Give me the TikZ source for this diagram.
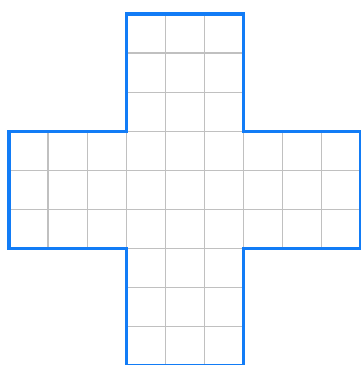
\documentclass[tikz,border=0pt]{standalone}
\definecolor{crossblue}{RGB}{18,124,246}
\definecolor{gridgray}{RGB}{192,192,192}
\tikzset{
  gridline/.style={draw=gridgray, line width=0.9pt},
  outline/.style={draw=crossblue, line width=2.2pt, line join=miter}
}
\begin{document}
\begin{tikzpicture}
\useasboundingbox (-0.23,0.02) rectangle (8.99,9.358);
\fill[white] (-0.23,0.02) rectangle (8.99,9.358);
% grid in horizontal arm
\foreach \x in {1,...,8} \draw[gridline] (\x,3) -- (\x,6);
\foreach \y in {4,5} \draw[gridline] (0,\y) -- (9,\y);
% grid in vertical arm
\foreach \y in {1,...,8} \draw[gridline] (3,\y) -- (6,\y);
\foreach \x in {4,5} \draw[gridline] (\x,0) -- (\x,9);
% outline
\draw[outline] (3,9) -- (6,9) -- (6,6) -- (9,6) -- (9,3) -- (6,3) -- (6,0) -- (3,0) -- (3,3) -- (0,3) -- (0,6) -- (3,6) -- cycle;
\end{tikzpicture}
\end{document}
